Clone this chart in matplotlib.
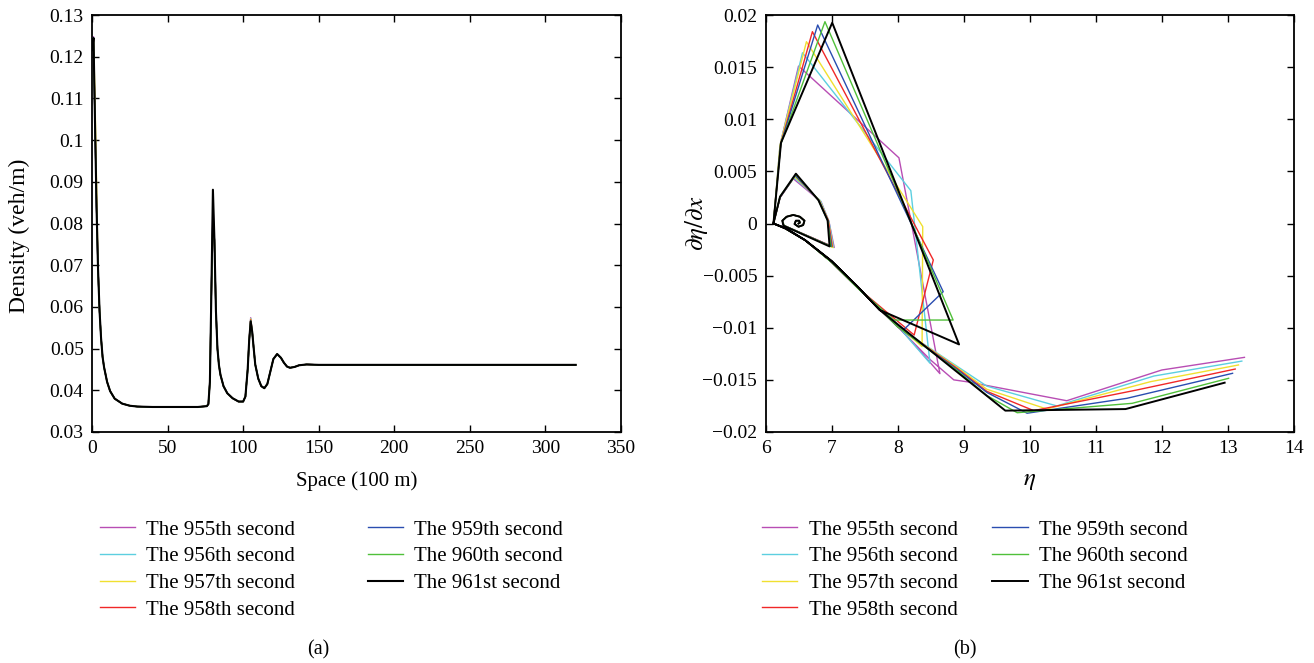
import matplotlib
matplotlib.use("Agg")
import matplotlib.pyplot as plt
from matplotlib.ticker import FuncFormatter

plt.rcParams['font.family'] = ['Liberation Serif', 'DejaVu Serif']
plt.rcParams['mathtext.fontset'] = 'stix'

# ---------------- data ----------------
labels = ["The 955th second", "The 956th second", "The 957th second",
          "The 958th second", "The 959th second", "The 960th second",
          "The 961st second"]
colors = ["#b84db4", "#5ccfe0", "#f0e030", "#f02828", "#2a4db0", "#50c03a", "#000000"]

# panel (a): density vs space
space_100m = [0, 1, 2, 3, 4, 5, 6, 7, 8, 10, 12, 15, 20, 25, 30, 40, 50, 60, 70,
              76, 77, 78, 79, 80, 81, 82, 83, 84, 85, 87, 89.5, 93, 97, 100,
              101.5, 103, 104, 105, 106, 107, 108, 110, 112, 114, 116, 118, 120,
              122.5, 125, 127, 129, 131, 134, 137, 142, 150, 200, 250, 300, 320]
density_961 = [0.1215, 0.1245, 0.104, 0.084, 0.069, 0.059, 0.0525, 0.048, 0.0455,
               0.0420, 0.0398, 0.0380, 0.0368, 0.0363, 0.0361,
               0.0360, 0.0360, 0.0360, 0.0360,
               0.0362, 0.0367, 0.0420, 0.0640, 0.0881, 0.0760, 0.0590, 0.0500, 0.0460, 0.0437,
               0.0410, 0.0393, 0.0381, 0.0373, 0.0373,
               0.0385, 0.0450, 0.0520, 0.0565, 0.0540, 0.0500, 0.0462,
               0.0428, 0.0410, 0.0405, 0.0415, 0.0445, 0.0475,
               0.0487, 0.0478, 0.0466, 0.0457, 0.0454, 0.0456, 0.0460, 0.0462, 0.0461,
               0.0461, 0.0461, 0.0461, 0.0461]
# read-off differences of the other seconds (start value, first & second peak)
start_peak = [0.1248, 0.1246, 0.1243, 0.1240, 0.1238, 0.1236, 0.1245]
first_peak = [0.0845, 0.0828, 0.0808, 0.0815, 0.0825, 0.0818, 0.0881]
second_peak = [0.0574, 0.0572, 0.0571, 0.0569, 0.0567, 0.0566, 0.0565]
yellow_early = [0.110, 0.090]   # 957th second at space 2 and 3

# panel (b): phase portrait  (eta, d eta / dx)
spiral_eta = [6.255, 6.32, 6.42, 6.52, 6.59, 6.57, 6.50, 6.44, 6.46, 6.51, 6.52, 6.50]
spiral_g = [0.00027, 0.00065, 0.00082, 0.00065, 0.00027, -0.00015, -0.00031,
            -0.00005, 0.00027, 0.00027, 0.00008, 0.0]

eta_955 = [13.25, 12.00, 10.56, 9.07, 8.85, 8.50, 8.00, 7.40, 7.00, 6.60, 6.30, 6.12,
           6.22, 6.50, 6.65, 8.02, 8.64, 8.00, 7.40, 7.00, 6.60, 6.30, 6.12,
           6.22, 6.42, 6.84, 6.96, 7.04, 6.28]
g_955 = [-0.01284, -0.01405, -0.0170, -0.0152, -0.0150, -0.0131, -0.0099, -0.0062, -0.0037, -0.0016, -0.0005, 0.0,
         0.0075, 0.0151, 0.01424, 0.0063, -0.0144, -0.0098, -0.0062, -0.0037, -0.0016, -0.00045, 0.0,
         0.0025, 0.0043, 0.0021, 0.0002, -0.0023, -0.0002]

eta_956 = [13.21, 11.88, 10.41, 9.35, 8.90, 8.00, 7.40, 7.00, 6.60, 6.30, 6.12,
           6.22, 6.56, 8.20, 8.49, 8.00, 7.40, 7.00, 6.60, 6.30, 6.12,
           6.22, 6.43, 6.83, 6.96, 7.03, 6.28]
g_956 = [-0.0132, -0.01463, -0.0175, -0.0156, -0.0137, -0.0099, -0.0062, -0.0037, -0.0016, -0.0005, 0.0,
         0.0075, 0.01638, 0.00315, -0.0134, -0.0098, -0.0062, -0.0037, -0.0016, -0.00045, 0.0,
         0.0025, 0.0044, 0.0022, 0.0002, -0.0023, -0.0002]

eta_957 = [13.16, 11.83, 10.26, 9.35, 8.90, 8.00, 7.40, 7.00, 6.60, 6.30, 6.12,
           6.22, 6.62, 8.38, 8.37, 8.00, 7.40, 7.00, 6.60, 6.30, 6.12,
           6.22, 6.44, 6.82, 6.95, 7.02, 6.28]
g_957 = [-0.01357, -0.01517, -0.0178, -0.0159, -0.0138, -0.0099, -0.0062, -0.0037, -0.0016, -0.0005, 0.0,
         0.0075, 0.01744, -0.0003, -0.0118, -0.0098, -0.0062, -0.0037, -0.0016, -0.00045, 0.0,
         0.0025, 0.0045, 0.0022, 0.0003, -0.0023, -0.0002]

eta_958 = [13.11, 11.62, 10.06, 9.35, 8.90, 8.00, 7.40, 7.00, 6.60, 6.30, 6.12,
           6.23, 6.71, 8.54, 8.25, 7.40, 7.00, 6.60, 6.30, 6.12,
           6.22, 6.45, 6.81, 6.95, 7.01, 6.28]
g_958 = [-0.01396, -0.01597, -0.01795, -0.0161, -0.0139, -0.0099, -0.0062, -0.0037, -0.0016, -0.0005, 0.0,
         0.0076, 0.0184, -0.0035, -0.0107, -0.0062, -0.0037, -0.0016, -0.00045, 0.0,
         0.0025, 0.0046, 0.0022, 0.0003, -0.0022, -0.0002]

eta_959 = [13.07, 11.47, 9.96, 9.35, 8.90, 8.00, 7.40, 7.00, 6.60, 6.30, 6.12,
           6.23, 6.79, 8.69, 8.09, 7.40, 7.00, 6.60, 6.30, 6.12,
           6.22, 6.45, 6.81, 6.94, 7.00, 6.28]
g_959 = [-0.01437, -0.01677, -0.0182, -0.0162, -0.0140, -0.0099, -0.0062, -0.0037, -0.0016, -0.0005, 0.0,
         0.0076, 0.01904, -0.00654, -0.0102, -0.0062, -0.0037, -0.0016, -0.00045, 0.0,
         0.0025, 0.0046, 0.0022, 0.0003, -0.0022, -0.0002]

eta_960 = [13.01, 11.55, 9.81, 9.35, 8.90, 8.00, 7.40, 7.00, 6.60, 6.30, 6.12,
           6.23, 6.90, 8.84, 7.94, 7.40, 7.00, 6.60, 6.30, 6.12,
           6.22, 6.46, 6.80, 6.94, 6.99, 6.28]
g_960 = [-0.01485, -0.01725, -0.01815, -0.0165, -0.0141, -0.0099, -0.0062, -0.0037, -0.0016, -0.0005, 0.0,
         0.0076, 0.01936, -0.00926, -0.00926, -0.0062, -0.0037, -0.0016, -0.00045, 0.0,
         0.0026, 0.0047, 0.00225, 0.0003, -0.0022, -0.0002]

eta_961 = [12.95, 11.45, 9.63, 7.73, 7.40, 7.00, 6.60, 6.30, 6.12,
           6.235, 7.01, 8.93, 7.73, 7.40, 7.00, 6.60, 6.30, 6.12,
           6.22, 6.46, 6.80, 6.94, 6.97, 6.27]
g_961 = [-0.01527, -0.0178, -0.01795, -0.0083, -0.0061, -0.0036, -0.0016, -0.00045, 0.0,
         0.00775, 0.01926, -0.0116, -0.0083, -0.0061, -0.0036, -0.0016, -0.00045, 0.0,
         0.00257, 0.00478, 0.00225, 0.0003, -0.0022, -0.0002]

phase_eta = [eta_955, eta_956, eta_957, eta_958, eta_959, eta_960, eta_961]
phase_g = [g_955, g_956, g_957, g_958, g_959, g_960, g_961]

# ---------------- figure ----------------
W, H = 1314, 663
fig = plt.figure(figsize=(W / 100, H / 100), dpi=100)
ax1 = fig.add_axes([92 / W, (H - 432) / H, (621 - 92) / W, 417 / H])
ax2 = fig.add_axes([765.5 / W, (H - 432) / H, (1294 - 765.5) / W, 417 / H])

fmt = FuncFormatter(lambda v, p: ('%g' % round(v, 6)).replace('-', '\u2212'))

# panel (a)
for i in range(7):
    dens = list(density_961)
    dens[1] = start_peak[i]
    dens[23] = first_peak[i]
    dens[37] = second_peak[i]
    if i == 2:
        dens[2], dens[3] = yellow_early
    lw = 1.5 if i == 6 else 1.0
    ax1.plot(space_100m, dens, color=colors[i], lw=lw, label=labels[i], zorder=2 + i)

ax1.set_xlim(0, 350)
ax1.set_ylim(0.03, 0.13)
ax1.set_xticks(range(0, 351, 50))
ax1.set_yticks([0.03 + 0.01 * k for k in range(11)])
ax1.yaxis.set_major_formatter(fmt)
ax1.set_xlabel("Space (100 m)", fontsize=15)
ax1.set_ylabel("Density (veh/m)", fontsize=17)
ax1.xaxis.set_label_coords(0.5, -0.095)
ax1.yaxis.set_label_coords(-0.118, 0.47)

# panel (b)
for i in range(7):
    lw = 1.4 if i == 6 else 1.0
    ax2.plot(phase_eta[i] + spiral_eta, phase_g[i] + spiral_g, color=colors[i],
             lw=lw, label=labels[i], zorder=2 + i)

ax2.set_xlim(6, 14)
ax2.set_ylim(-0.02, 0.02)
ax2.set_xticks(range(6, 15))
ax2.set_yticks([-0.02, -0.015, -0.01, -0.005, 0, 0.005, 0.01, 0.015, 0.02])
ax2.yaxis.set_major_formatter(fmt)
ax2.set_xlabel(r"$\eta$", fontsize=18)
ax2.set_ylabel(r"$\partial\eta/\partial x$", fontsize=18)
ax2.xaxis.set_label_coords(0.5, -0.09)
ax2.yaxis.set_label_coords(-0.105, 0.5)

for ax in (ax1, ax2):
    ax.tick_params(direction='in', length=5, width=1, top=True, right=True,
                   labelsize=14, pad=6)
    for s in ax.spines.values():
        s.set_linewidth(1.3)

ax1.legend(loc='upper left', bbox_to_anchor=(100 / W, 1 - 520 / H),
           bbox_transform=fig.transFigure, ncol=2, frameon=False, fontsize=15,
           borderpad=0, borderaxespad=0, handlelength=1.7, handletextpad=0.5,
           columnspacing=3.5, labelspacing=0.34)
ax2.legend(loc='upper left', bbox_to_anchor=(762 / W, 1 - 520 / H),
           bbox_transform=fig.transFigure, ncol=2, frameon=False, fontsize=15,
           borderpad=0, borderaxespad=0, handlelength=1.7, handletextpad=0.55,
           columnspacing=1.65, labelspacing=0.34)

fig.text(318 / W, 1 - 650 / H, "(a)", ha='center', va='center', fontsize=14.5)
fig.text(965 / W, 1 - 650 / H, "(b)", ha='center', va='center', fontsize=14.5)

fig.savefig("out.png", dpi=100)
